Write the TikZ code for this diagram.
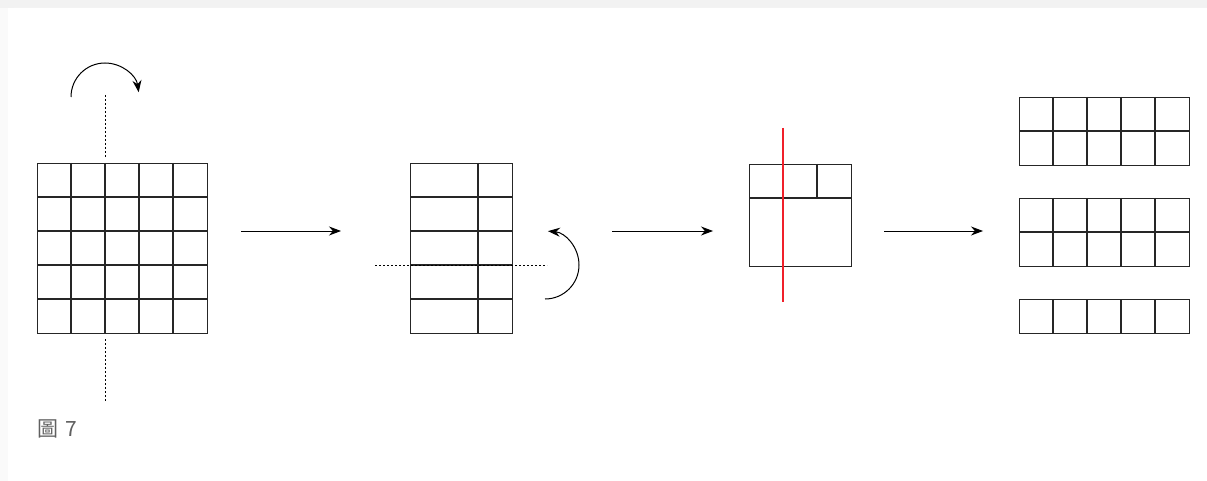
\documentclass[tikz,border=0pt]{standalone}
\usepackage{fontspec}
\newfontfamily\cjk{Noto Sans CJK TC}
\usetikzlibrary{arrows.meta}
\definecolor{cutred}{HTML}{F0202A}
\definecolor{captiongray}{HTML}{606060}
\tikzset{
  gridline/.style={line width=1.2pt, draw=black!85},
  foldline/.style={line width=1pt, dash pattern=on 2pt off 2pt},
  steparrow/.style={line width=1pt, -{Stealth[length=12pt,width=9pt]}},
  turnarrow/.style={line width=1pt, -{Stealth[length=12pt,width=9pt]}},
  cutline/.style={line width=2.4pt, draw=cutred},
}
\begin{document}
\begin{tikzpicture}[x=1pt,y=-1pt]
  % page and card edge
  \useasboundingbox (0,0) rectangle (1207,481);
  \fill[white] (0,0) rectangle (1207,481);
  \fill[black!5] (0,0) rectangle (1207,8);
  \fill[black!2] (0,8) rectangle (8,481);
  \fill[white, rounded corners=6pt] (8,8) rectangle (1215,490);

  % stage 1: 5 x 5 sheet with a vertical fold line
  \node[draw, gridline, minimum width=170pt, minimum height=170pt, inner sep=0pt, anchor=north west] (s1) at (37,163) {};
  \foreach \i in {1,...,4} {
    \draw[gridline] (37+34*\i,163) -- (37+34*\i,333);
    \draw[gridline] (37,163+34*\i) -- (207,163+34*\i);
  }
  \coordinate (f1a) at (105,95);
  \coordinate (f1b) at (105,157);
  \coordinate (f1c) at (105,339);
  \coordinate (f1d) at (105,401);
  \draw[foldline] (f1a) -- (f1b);
  \draw[foldline] (f1c) -- (f1d);
  \coordinate (t1) at (71,97);
  \draw[turnarrow] (t1) arc[start angle=180, end angle=352, radius=34];

  % stage 2: folded sheet with a horizontal fold line
  \node[draw, gridline, minimum width=102pt, minimum height=170pt, inner sep=0pt, anchor=north west] (s2) at (410,163) {};
  \draw[gridline] (478,163) -- (478,333);
  \foreach \i in {1,...,4}
    \draw[gridline] (410,163+34*\i) -- (512,163+34*\i);
  \coordinate (f2a) at (375,265);
  \coordinate (f2b) at (547,265);
  \draw[foldline] (f2a) -- (f2b);
  \coordinate (t2) at (545,299);
  \draw[turnarrow] (t2) arc[start angle=90, end angle=-85, radius=34];

  % stage 3: folded twice, cut along the red line
  \node[draw, gridline, minimum width=102pt, minimum height=102pt, inner sep=0pt, anchor=north west] (s3) at (749,164) {};
  \draw[gridline] (749,198) -- (851,198);
  \draw[gridline] (817,164) -- (817,198);
  \coordinate (c1) at (783,128);
  \coordinate (c2) at (783,302);
  \draw[cutline] (c1) -- (c2);

  % stage 4: the resulting strips
  \foreach \top/\rows [count=\k] in {97/2, 198/2, 299/1} {
    \node[draw, gridline, minimum width=170pt, minimum height=34*\rows pt, inner sep=0pt, anchor=north west] (p\k) at (1019,\top) {};
    \foreach \i in {1,...,4}
      \draw[gridline] (1019+34*\i,\top) -- (1019+34*\i,\top+34*\rows);
    \ifnum\rows=2
      \draw[gridline] (1019,\top+34) -- (1189,\top+34);
    \fi
  }

  % arrows between stages
  \coordinate (a1) at (241,231);
  \coordinate (b1) at (341,231);
  \coordinate (a2) at (612,231);
  \coordinate (b2) at (713,231);
  \coordinate (a3) at (884,231);
  \coordinate (b3) at (983,231);
  \draw[steparrow] (a1) -- (b1);
  \draw[steparrow] (a2) -- (b2);
  \draw[steparrow] (a3) -- (b3);

  % caption
  \node[anchor=west, inner sep=0pt, text=captiongray, font=\cjk\fontsize{21pt}{25pt}\selectfont] (cap) at (37,429) {圖\hspace{7pt}7};
\end{tikzpicture}
\end{document}
